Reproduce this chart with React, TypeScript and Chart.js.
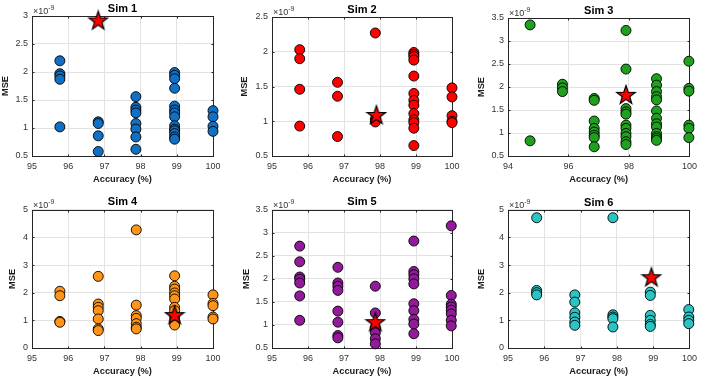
import React, { useEffect, useRef } from "react";
import { Chart, registerables } from "chart.js";
Chart.register(...registerables);

// MSE values are in units of 1e-9
const sim1Accuracy = [95.77, 95.77, 95.77, 95.77, 95.77, 96.83, 96.83, 96.83, 96.83, 97.87, 97.87, 97.87, 97.87, 97.87, 97.87, 97.87, 97.87, 98.94, 98.94, 98.94, 98.94, 98.94, 98.94, 98.94, 98.94, 98.94, 98.94, 98.94, 98.94, 98.94, 98.94, 100, 100, 100, 100];
const sim1Mse = [2.2, 1.97, 1.93, 1.87, 1.02, 1.11, 1.08, 0.86, 0.58, 1.56, 1.37, 1.32, 1.27, 1.08, 0.98, 0.84, 0.62, 1.99, 1.94, 1.88, 1.71, 1.39, 1.32, 1.27, 1.2, 1.04, 0.98, 0.95, 0.9, 0.84, 0.8, 1.31, 1.2, 1.03, 0.94];
const sim1BestAccuracy = [96.83];
const sim1BestMse = [2.92];

const sim2Accuracy = [95.77, 95.77, 95.77, 95.77, 96.82, 96.82, 96.82, 97.87, 97.87, 97.87, 98.94, 98.94, 98.94, 98.94, 98.94, 98.94, 98.94, 98.94, 98.94, 98.94, 98.94, 98.94, 98.94, 100, 100, 100, 100, 100];
const sim2Mse = [2.03, 1.9, 1.46, 0.93, 1.56, 1.36, 0.78, 2.27, 1.03, 0.99, 1.99, 1.96, 1.93, 1.88, 1.65, 1.4, 1.3, 1.23, 1.11, 1.02, 0.98, 0.9, 0.65, 1.48, 1.35, 1.08, 1.0, 0.98];
const sim2BestAccuracy = [97.9];
const sim2BestMse = [1.09];

const sim3Accuracy = [94.73, 94.73, 95.8, 95.8, 95.8, 96.85, 96.85, 96.85, 96.85, 96.85, 96.85, 96.85, 96.85, 97.9, 97.9, 97.9, 97.9, 97.9, 97.9, 97.9, 97.9, 97.9, 97.9, 97.9, 98.91, 98.91, 98.91, 98.91, 98.91, 98.91, 98.91, 98.91, 98.91, 98.91, 98.91, 98.91, 98.91, 99.98, 99.98, 99.98, 99.98, 99.98, 99.98];
const sim3Mse = [3.35, 0.83, 2.06, 1.98, 1.9, 1.75, 1.71, 1.26, 1.1, 1.02, 0.95, 0.9, 0.7, 3.23, 2.39, 1.53, 1.46, 1.41, 1.17, 1.1, 0.99, 0.92, 0.81, 0.75, 2.18, 2.04, 1.9, 1.79, 1.72, 1.48, 1.32, 1.2, 1.13, 0.99, 0.92, 0.88, 0.84, 2.56, 1.97, 1.91, 1.17, 1.1, 0.9];
const sim3BestAccuracy = [97.9];
const sim3BestMse = [1.83];

const sim4Accuracy = [95.77, 95.77, 95.77, 95.77, 96.83, 96.83, 96.83, 96.83, 96.83, 96.83, 96.83, 97.88, 97.88, 97.88, 97.88, 97.88, 97.88, 97.88, 98.94, 98.94, 98.94, 98.94, 98.94, 98.94, 98.94, 98.94, 98.94, 98.94, 98.94, 100, 100, 100, 100, 100];
const sim4Mse = [2.05, 1.89, 0.96, 0.93, 2.59, 1.59, 1.47, 1.35, 1.05, 0.69, 0.63, 4.27, 1.55, 1.17, 1.07, 0.88, 0.75, 0.69, 2.61, 2.23, 2.13, 1.99, 1.89, 1.77, 1.47, 1.35, 1.14, 0.99, 0.83, 1.92, 1.61, 1.53, 1.12, 1.05];
const sim4BestAccuracy = [98.94];
const sim4BestMse = [1.19];

const sim5Accuracy = [95.77, 95.77, 95.77, 95.77, 95.77, 95.77, 95.77, 96.83, 96.83, 96.83, 96.83, 96.83, 96.83, 96.83, 96.83, 97.87, 97.87, 97.87, 97.87, 97.87, 97.87, 98.94, 98.94, 98.94, 98.94, 98.94, 98.94, 98.94, 98.94, 98.94, 98.94, 99.98, 99.98, 99.98, 99.98, 99.98, 99.98, 99.98, 99.98];
const sim5Mse = [2.71, 2.37, 2.04, 1.99, 1.91, 1.63, 1.1, 2.25, 1.91, 1.84, 1.75, 1.3, 1.06, 0.77, 0.72, 1.84, 1.26, 0.94, 0.83, 0.7, 0.59, 2.82, 2.16, 2.09, 2.0, 1.89, 1.46, 1.31, 1.12, 1.02, 0.81, 3.15, 1.64, 1.45, 1.39, 1.32, 1.24, 1.1, 0.98];
const sim5BestAccuracy = [97.87];
const sim5BestMse = [1.06];

const sim6Accuracy = [95.79, 95.79, 95.79, 95.79, 96.84, 96.84, 96.84, 96.84, 96.84, 96.84, 97.89, 97.89, 97.89, 97.89, 97.89, 98.92, 98.92, 98.92, 98.92, 98.92, 98.92, 99.98, 99.98, 99.98, 99.98];
const sim6Mse = [4.71, 2.08, 2.0, 1.92, 1.92, 1.66, 1.27, 1.11, 0.94, 0.82, 4.71, 1.2, 1.12, 1.06, 0.76, 2.02, 1.9, 1.18, 1.0, 0.85, 0.78, 1.39, 1.12, 1.0, 0.88];
const sim6BestAccuracy = [98.95];
const sim6BestMse = [2.56];

const titles = ["Sim 1", "Sim 2", "Sim 3", "Sim 4", "Sim 5", "Sim 6"];
const xLabel = "Accuracy (%)";
const yLabel = "MSE";
const exponentBase = "×10";
const exponentPower = "-9";

const FONT = "'Liberation Sans', Arial, Helvetica, sans-serif";

type Panel = {
  acc: number[]; mse: number[]; bestAcc: number[]; bestMse: number[];
  color: string;
  cellX: number; cellY: number;
  plotLeft: number; rightPad: number;
  titlePadTop: number; titlePadBottom: number;
  xAxisHeight: number; xTitlePadBottom: number; yTitlePadTop: number;
  xMin: number; xMax: number; xStep: number;
  yMin: number; yMax: number; yStep: number;
};

const panels: Panel[] = [
  { acc: sim1Accuracy, mse: sim1Mse, bestAcc: sim1BestAccuracy, bestMse: sim1BestMse, color: "#1170C4",
    cellX: 0, cellY: 0, plotLeft: 32, rightPad: 21, titlePadTop: 2.5, titlePadBottom: 0.3,
    xAxisHeight: 33, xTitlePadBottom: 3.7, yTitlePadTop: 0, xMin: 95, xMax: 100, xStep: 1, yMin: 0.5, yMax: 3, yStep: 0.5 },
  { acc: sim2Accuracy, mse: sim2Mse, bestAcc: sim2BestAccuracy, bestMse: sim2BestMse, color: "#FF0000",
    cellX: 234, cellY: 0, plotLeft: 38, rightPad: 16, titlePadTop: 3.3, titlePadBottom: 0.5,
    xAxisHeight: 33, xTitlePadBottom: 3.7, yTitlePadTop: 4.7, xMin: 95, xMax: 100, xStep: 1, yMin: 0.5, yMax: 2.5, yStep: 0.5 },
  { acc: sim3Accuracy, mse: sim3Mse, bestAcc: sim3BestAccuracy, bestMse: sim3BestMse, color: "#1FA01F",
    cellX: 468, cellY: 0, plotLeft: 40, rightPad: 12, titlePadTop: 4, titlePadBottom: 0.8,
    xAxisHeight: 33, xTitlePadBottom: 3.7, yTitlePadTop: 7.5, xMin: 94, xMax: 100, xStep: 2, yMin: 0.5, yMax: 3.5, yStep: 0.5 },
  { acc: sim4Accuracy, mse: sim4Mse, bestAcc: sim4BestAccuracy, bestMse: sim4BestMse, color: "#FF9419",
    cellX: 0, cellY: 189, plotLeft: 32, rightPad: 21, titlePadTop: 6.7, titlePadBottom: 0.8,
    xAxisHeight: 30, xTitlePadBottom: 0.7, yTitlePadTop: 6.7, xMin: 95, xMax: 100, xStep: 1, yMin: 0, yMax: 5, yStep: 1 },
  { acc: sim5Accuracy, mse: sim5Mse, bestAcc: sim5BestAccuracy, bestMse: sim5BestMse, color: "#931A9A",
    cellX: 234, cellY: 189, plotLeft: 38, rightPad: 16, titlePadTop: 6.7, titlePadBottom: 0.8,
    xAxisHeight: 30, xTitlePadBottom: 0.7, yTitlePadTop: 7.3, xMin: 95, xMax: 100, xStep: 1, yMin: 0.5, yMax: 3.5, yStep: 0.5 },
  { acc: sim6Accuracy, mse: sim6Mse, bestAcc: sim6BestAccuracy, bestMse: sim6BestMse, color: "#2BC4C4",
    cellX: 468, cellY: 189, plotLeft: 40, rightPad: 11, titlePadTop: 7.2, titlePadBottom: 0.3,
    xAxisHeight: 30, xTitlePadBottom: 0.7, yTitlePadTop: 8.3, xMin: 95, xMax: 100, xStep: 1, yMin: 0, yMax: 5, yStep: 1 },
];

function makeStar(): HTMLCanvasElement {
  const c = document.createElement("canvas");
  c.width = 22; c.height = 22;
  const ctx = c.getContext("2d")!;
  const cx = 11, cy = 11.5, R = 9.8, r = 3.9;
  ctx.beginPath();
  for (let i = 0; i < 10; i++) {
    const rad = i % 2 === 0 ? R : r;
    const a = -Math.PI / 2 + (i * Math.PI) / 5;
    const px = cx + rad * Math.cos(a), py = cy + rad * Math.sin(a);
    if (i === 0) ctx.moveTo(px, py); else ctx.lineTo(px, py);
  }
  ctx.closePath();
  ctx.fillStyle = "#FF0000";
  ctx.fill();
  ctx.lineWidth = 1.2;
  ctx.strokeStyle = "#000000";
  ctx.stroke();
  return c;
}

const matlabAxes = {
  id: "matlabAxes",
  beforeDatasetsDraw(chart: any) {
    const { ctx, chartArea: a, scales } = chart;
    ctx.save();
    ctx.strokeStyle = "#262626";
    ctx.lineWidth = 1;
    const L = Math.round(a.left) + 0.5, T = Math.round(a.top) + 0.5;
    const Rr = Math.round(a.right) + 0.5, B = Math.round(a.bottom) + 0.5;
    ctx.strokeRect(L, T, Rr - L, B - T);
    const tl = 2;
    ctx.beginPath();
    scales.x.ticks.forEach((t: any) => {
      const px = Math.round(scales.x.getPixelForValue(t.value)) + 0.5;
      ctx.moveTo(px, B); ctx.lineTo(px, B - tl);
      ctx.moveTo(px, T); ctx.lineTo(px, T + tl);
    });
    scales.y.ticks.forEach((t: any) => {
      const py = Math.round(scales.y.getPixelForValue(t.value)) + 0.5;
      ctx.moveTo(L, py); ctx.lineTo(L + tl, py);
      ctx.moveTo(Rr, py); ctx.lineTo(Rr - tl, py);
    });
    ctx.stroke();
    ctx.fillStyle = "#333333";
    ctx.textAlign = "left";
    ctx.textBaseline = "alphabetic";
    ctx.font = `9px ${FONT}`;
    const base = a.top - 2;
    ctx.fillText(exponentBase, a.left + 1, base);
    const w = ctx.measureText(exponentBase).width;
    ctx.font = `7px ${FONT}`;
    ctx.fillText(exponentPower, a.left + 1 + w, base - 4);
    ctx.restore();
  },
};

export default function App() {
  const refs = useRef<(HTMLCanvasElement | null)[]>([]);

  useEffect(() => {
    const star = makeStar();
    const charts = panels.map((p, i) => {
      const canvas = refs.current[i]!;
      return new Chart(canvas, {
        type: "scatter",
        data: {
          datasets: [
            {
              data: p.bestAcc.map((x, k) => ({ x, y: p.bestMse[k] })),
              pointStyle: star as any,
              pointRadius: 10,
              clip: false as any,
            },
            {
              data: p.acc.map((x, k) => ({ x, y: p.mse[k] })),
              backgroundColor: p.color,
              borderColor: "#000000",
              borderWidth: 0.9,
              pointRadius: 5,
              pointHoverRadius: 5,
              clip: false as any,
            },
          ],
        },
        options: {
          animation: false,
          responsive: false,
          devicePixelRatio: 1,
          events: [],
          layout: { padding: { left: 0, right: p.rightPad, top: 0, bottom: 0 } },
          plugins: {
            legend: { display: false },
            tooltip: { enabled: false },
            title: {
              display: true,
              text: titles[i],
              fullSize: false,
              color: "#000000",
              font: { family: FONT, size: 11, weight: "bold" },
              padding: { top: p.titlePadTop, bottom: p.titlePadBottom },
            },
          },
          scales: {
            x: {
              type: "linear",
              min: p.xMin,
              max: p.xMax,
              afterFit: (s: any) => { s.height = p.xAxisHeight; },
              ticks: {
                stepSize: p.xStep,
                color: "#333333",
                font: { family: FONT, size: 9 },
                padding: 5,
                maxRotation: 0,
                autoSkip: false,
                callback: (v: any) => String(+Number(v).toFixed(2)),
              },
              grid: { color: "#e3e3e3", drawTicks: false, lineWidth: 1 },
              border: { display: false },
              title: {
                display: true,
                text: xLabel,
                color: "#1a1a1a",
                font: { family: FONT, size: 9.3, weight: "bold" },
                padding: { top: 0, bottom: p.xTitlePadBottom },
              },
            },
            y: {
              type: "linear",
              min: p.yMin,
              max: p.yMax,
              afterFit: (s: any) => { s.width = p.plotLeft; },
              ticks: {
                stepSize: p.yStep,
                color: "#333333",
                font: { family: FONT, size: 9 },
                padding: 4,
                autoSkip: false,
                callback: (v: any) => String(+Number(v).toFixed(2)),
              },
              grid: { color: "#e3e3e3", drawTicks: false, lineWidth: 1 },
              border: { display: false },
              title: {
                display: true,
                text: yLabel,
                color: "#1a1a1a",
                font: { family: FONT, size: 9.3, weight: "bold" },
                padding: { top: p.yTitlePadTop, bottom: 0 },
              },
            },
          },
        },
        plugins: [matlabAxes],
      } as any);
    });
    return () => charts.forEach((c) => c.destroy());
  }, []);

  return (
    <div style={{ position: "fixed", left: 0, top: 0, width: 702, height: 378, background: "#ffffff" }}>
      {panels.map((p, i) => (
        <canvas
          key={i}
          ref={(el) => { refs.current[i] = el; }}
          width={234}
          height={189}
          style={{ position: "absolute", left: p.cellX, top: p.cellY, width: 234, height: 189 }}
        />
      ))}
    </div>
  );
}
